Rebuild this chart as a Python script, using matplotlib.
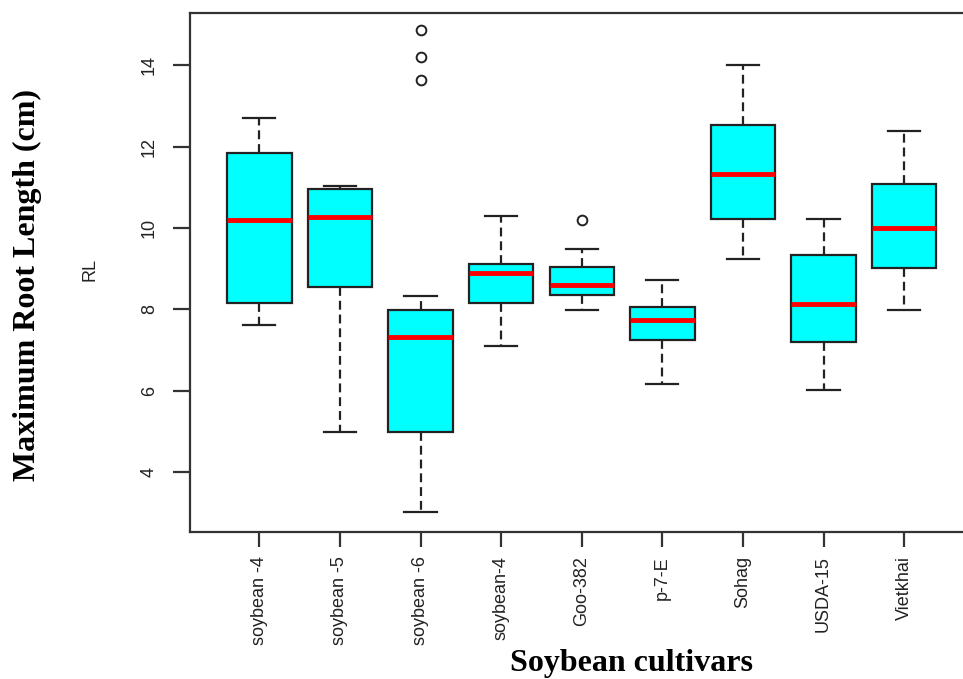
import matplotlib
matplotlib.use("Agg")
import matplotlib.pyplot as plt

categories = ["soybean -4", "soybean -5", "soybean -6", "soybean-4", "Goo-382",
              "p-7-E", "Sohag", "USDA-15", "Vietkhai"]
whislo = [7.61, 5.00, 3.02, 7.10, 7.98, 6.18, 9.23, 6.03, 7.98]
q1     = [8.16, 8.54, 4.99, 8.16, 8.36, 7.24, 10.22, 7.21, 9.01]
med    = [10.19, 10.26, 7.32, 8.90, 8.60, 7.73, 11.33, 8.13, 10.00]
q3     = [11.83, 10.96, 7.98, 9.12, 9.05, 8.05, 12.53, 9.34, 11.07]
whishi = [12.69, 11.03, 8.32, 10.29, 9.49, 8.72, 14.01, 10.22, 12.39]
fliers = [[], [], [13.64, 14.19, 14.85], [], [10.19], [], [], [], []]
yticks = [4, 6, 8, 10, 12, 14]

W, H = 963, 679
fig = plt.figure(figsize=(W / 100, H / 100), dpi=100)
left, right, top, bottom = 190, 973.5, 13.3, 532.3
ax = fig.add_axes([left / W, 1 - bottom / H, (right - left) / W, (bottom - top) / H])

stats = []
for i in range(len(categories)):
    stats.append(dict(med=med[i], q1=q1[i], q3=q3[i], whislo=whislo[i],
                      whishi=whishi[i], fliers=fliers[i], label=categories[i]))

positions = list(range(1, len(categories) + 1))
ax.bxp(stats, positions=positions, widths=0.8, capwidths=0.4, patch_artist=True,
       boxprops=dict(facecolor="#00FFFF", edgecolor="#222222", linewidth=1.6),
       medianprops=dict(color="#FF0000", linewidth=3.5, solid_capstyle="butt"),
       whiskerprops=dict(color="#222222", linewidth=1.6, linestyle=(0, (4, 2.2))),
       capprops=dict(color="#222222", linewidth=1.6),
       flierprops=dict(marker="o", markerfacecolor="none", markeredgecolor="#222222",
                       markersize=7, markeredgewidth=1.4))

ax.set_xlim(0.14, 9.86)
ax.set_ylim(2.528, 15.272)

for s in ax.spines.values():
    s.set_color("#333333")
    s.set_linewidth(1.6)

font = "Liberation Sans"
ax.set_yticks(yticks)
ax.set_yticklabels([str(v) for v in yticks], rotation=90, va="center",
                   fontfamily=font, fontsize=13, color="#222222")
ax.set_xticks(positions)
ax.set_xticklabels(categories, rotation=90, ha="center", va="top",
                   fontfamily=font, fontsize=13, color="#222222")
ax.tick_params(axis="y", length=12, width=1.6, color="#333333", pad=11)
ax.tick_params(axis="x", length=11, width=1.6, color="#333333", pad=6)

fig.text(90 / W, 1 - 270 / H, "RL", rotation=90, ha="center", va="center",
         fontfamily=font, fontsize=13, color="#222222")
fig.text(27 / W, 1 - 285 / H, "Maximum Root Length (cm)", rotation=90,
         ha="center", va="center", fontfamily="Liberation Serif",
         fontweight="bold", fontsize=23, color="black")
fig.text(631 / W, 1 - 663 / H, "Soybean cultivars", ha="center", va="center",
         fontfamily="Liberation Serif", fontweight="bold", fontsize=23, color="black")

fig.savefig("out.png", dpi=100)
